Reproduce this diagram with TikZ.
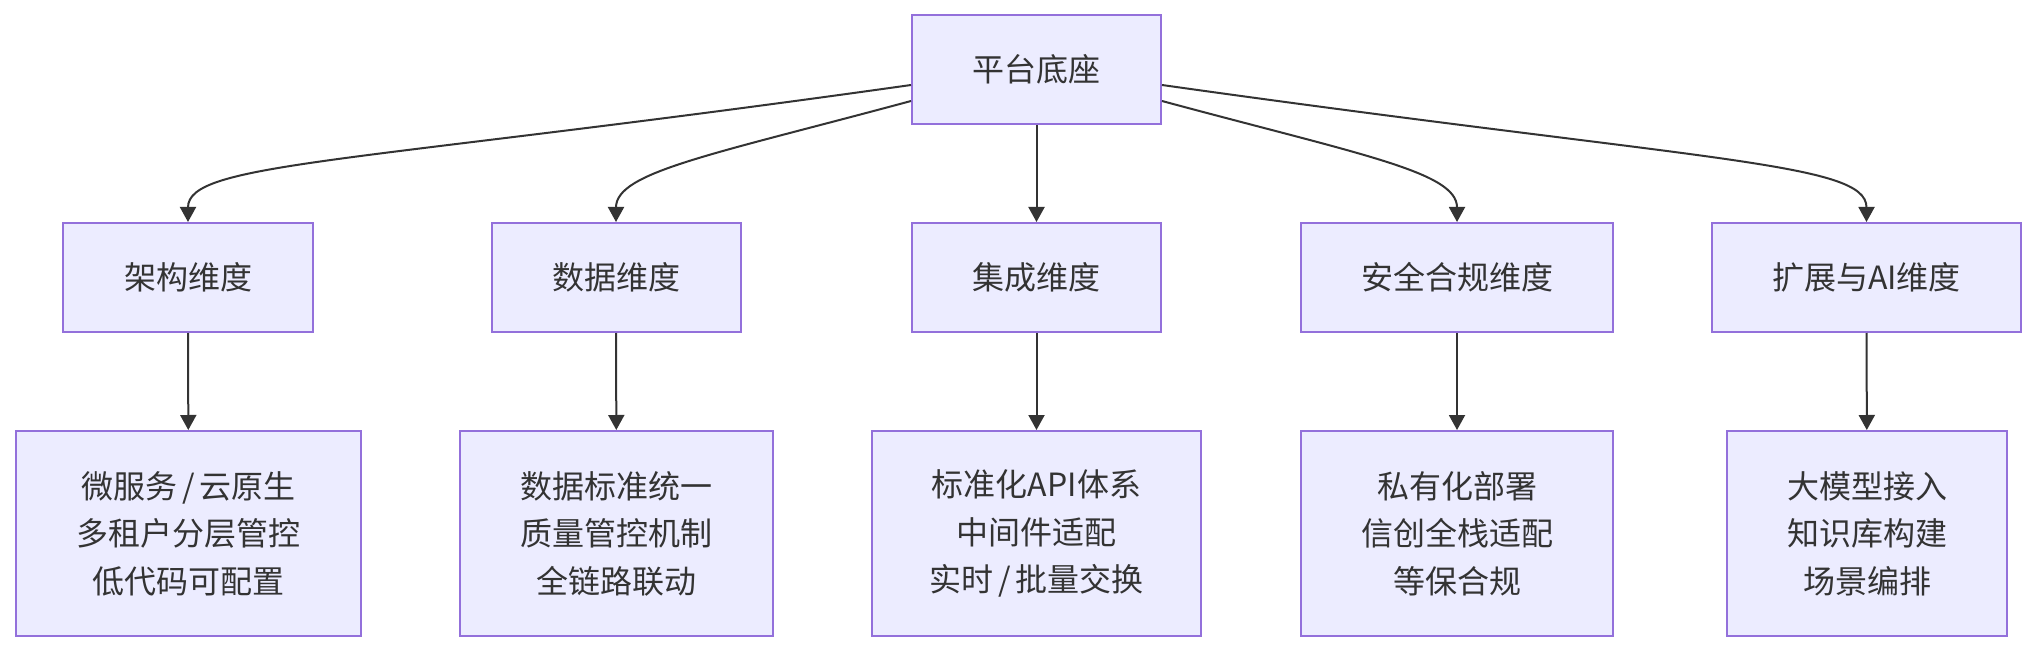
\documentclass[tikz,border=0pt]{standalone}
\usepackage{fontspec}
\setmainfont{Noto Sans CJK SC}
\usetikzlibrary{arrows.meta}
\definecolor{boxfill}{HTML}{ECECFF}
\definecolor{boxline}{HTML}{9370DB}
\definecolor{inkgray}{HTML}{333333}
\newcommand{\slashsep}{\kern5pt/\kern5pt}

\begin{document}
\begin{tikzpicture}[x=1pt,y=-1pt,>={Triangle[length=15pt,width=16pt]},
  dimbox/.style={draw=boxline,fill=boxfill,line width=2pt,text=inkgray,
    align=center,inner sep=0pt,minimum height=109pt,
    font=\fontsize{32}{47.5}\selectfont},
  itembox/.style={dimbox,minimum height=205pt},
  link/.style={->,draw=inkgray,line width=2pt}]
  \useasboundingbox (0,0) rectangle (2036,652);
  \node[dimbox,minimum width=249pt] (root) at (1036.5,69.5) {平台底座};
  \node[dimbox,minimum width=250pt] (archDim) at (188,277.5) {架构维度};
  \node[dimbox,minimum width=249pt] (dataDim) at (616,277.5) {数据维度};
  \node[dimbox,minimum width=249pt] (integDim) at (1036.5,277.5) {集成维度};
  \node[dimbox,minimum width=312pt] (secDim) at (1457,277.5) {安全合规维度};
  \node[dimbox,minimum width=309pt] (extDim) at (1866.5,277.5) {扩展与AI维度};
  \node[itembox,minimum width=345pt] (archItems) at (188.5,533.5) {微服务\slashsep 云原生\\多租户分层管控\\低代码可配置};
  \node[itembox,minimum width=313pt] (dataItems) at (616.5,533.5) {数据标准统一\\质量管控机制\\全链路联动};
  \node[itembox,minimum width=329pt] (integItems) at (1036.5,533.5) {标准化API体系\\中间件适配\\实时\slashsep 批量交换};
  \node[itembox,minimum width=312pt] (secItems) at (1457,533.5) {私有化部署\\信创全栈适配\\等保合规};
  \node[itembox,minimum width=280pt] (extItems) at (1867,533.5) {大模型接入\\知识库构建\\场景编排};
  % root to dimensions
  \draw[link] ([yshift=-15.5pt]root.west) .. controls +(-560,79) and +(0,-60) .. (archDim.north);
  \draw[link] ([yshift=-31.5pt]root.west) .. controls +(-200,54) and +(0,-50) .. (dataDim.north);
  \draw[link] (root) -- (integDim);
  \draw[link] ([yshift=-31.5pt]root.east) .. controls +(200,54) and +(0,-50) .. (secDim.north);
  \draw[link] ([yshift=-15.5pt]root.east) .. controls +(546,77) and +(0,-60) .. (extDim.north);
  % dimensions to items
  \foreach \d/\i in {archDim/archItems,dataDim/dataItems,integDim/integItems,secDim/secItems,extDim/extItems}
    \draw[link] (\d) -- (\i);
\end{tikzpicture}
\end{document}
